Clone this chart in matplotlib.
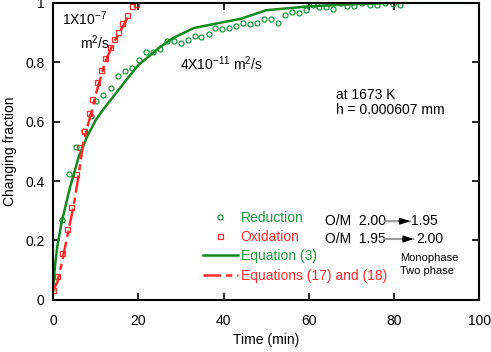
import matplotlib
matplotlib.use("Agg")
import matplotlib.pyplot as plt

plt.rcParams['font.family'] = ['Liberation Sans', 'DejaVu Sans']
plt.rcParams['mathtext.fontset'] = 'custom'
plt.rcParams['mathtext.rm'] = 'Liberation Sans'

# Reduction data (circles)
red_t = [0.47, 2.2, 3.7, 5.4, 7.2, 8.8, 10.2, 11.8, 13.5, 15.2, 16.8, 18.5, 20.1, 21.8,
         23.4, 25.1, 26.7, 28.3, 30.0, 31.6, 33.2, 34.8, 36.5, 38.1, 39.7, 41.4, 43.0,
         44.6, 46.2, 47.9, 49.5, 51.2, 52.8, 54.5, 56.0, 57.7, 59.3, 61.0, 62.5, 64.1,
         65.7, 67.5, 68.9, 70.6, 72.5, 74.4, 76.1, 77.9, 79.7, 81.5]
red_f = [0.064, 0.27, 0.423, 0.513, 0.57, 0.62, 0.668, 0.69, 0.713, 0.754, 0.772, 0.78,
         0.808, 0.833, 0.836, 0.846, 0.87, 0.87, 0.864, 0.874, 0.888, 0.884, 0.896, 0.916,
         0.912, 0.914, 0.922, 0.933, 0.93, 0.933, 0.947, 0.947, 0.933, 0.96, 0.97, 0.967,
         0.976, 0.993, 0.985, 0.985, 0.979, 0.999, 0.99, 0.99, 1.0, 0.993, 0.993, 1.0,
         0.997, 0.993]

# Oxidation data (squares)
ox_t = [0.1, 1.0, 2.2, 3.2, 4.2, 5.3, 6.2, 7.2, 8.4, 9.2, 10.3, 11.2, 12.2, 13.4, 14.3,
        15.3, 16.3, 17.4, 18.5, 19.5]
ox_f = [0.034, 0.082, 0.157, 0.239, 0.314, 0.423, 0.513, 0.57, 0.629, 0.677, 0.735,
        0.774, 0.814, 0.851, 0.878, 0.903, 0.932, 0.96, 0.988, 0.997]

# Equation (3)
eq3_t = [0, 0.5, 1, 2, 3, 4, 5, 6, 8, 10, 12, 15, 18, 20, 25, 28, 33, 40, 44, 50, 60, 70, 80, 100]
eq3_f = [0.03, 0.12, 0.18, 0.26, 0.32, 0.38, 0.43, 0.48, 0.55, 0.605, 0.645, 0.70, 0.755,
         0.79, 0.85, 0.88, 0.915, 0.935, 0.946, 0.975, 0.988, 0.995, 1.0, 1.0]

# Equations (17) and (18)
eq17_t = [0, 1, 2, 3, 4, 5, 6, 7, 8, 9, 10, 12, 14, 16, 17.5]
eq17_f = [0.03, 0.06, 0.12, 0.19, 0.26, 0.33, 0.42, 0.52, 0.58, 0.63, 0.69, 0.79, 0.86, 0.91, 0.95]

GREEN_M = '#1a9e3c'
GREEN_L = '#138a1f'
RED = '#ff2a2a'

fig = plt.figure(figsize=(4.91, 3.52), dpi=100)
ax = fig.add_axes([0.108, 0.148, 0.868, 0.844])

ax.plot(red_t, red_f, 'o', ms=3.6, mfc='none', mec=GREEN_M, mew=0.9, label='Reduction')
ax.plot(ox_t, ox_f, 's', ms=3.6, mfc='none', mec=RED, mew=0.9, label='Oxidation')
ax.plot(eq3_t, eq3_f, '-', color=GREEN_L, lw=1.8, label='Equation (3)')
ax.plot(eq17_t, eq17_f, '-', color=RED, lw=1.8, dashes=(7, 2, 2.5, 2), label='Equations (17) and (18)')

ax.set_xlim(0, 100)
ax.set_ylim(0, 1)
ax.set_xticks([0, 20, 40, 60, 80, 100])
ax.set_yticks([0, 0.2, 0.4, 0.6, 0.8, 1])
ax.set_yticklabels(['0', '0.2', '0.4', '0.6', '0.8', '1'])
ax.tick_params(direction='in', top=True, right=True, length=5, width=1.2, labelsize=10, pad=6)
ax.tick_params(axis='x', pad=10)
for s in ax.spines.values():
    s.set_linewidth(1.5)

ax.set_xlabel('Time (min)', fontsize=10)
ax.set_ylabel('Changing fraction', fontsize=10, labelpad=6)

leg = ax.legend(loc='upper left', bbox_to_anchor=(0.352, 0.30), frameon=False,
                borderpad=0, borderaxespad=0, handlelength=2.5, handletextpad=0.2,
                labelspacing=0.38, numpoints=1, fontsize=10)
for txt, c in zip(leg.get_texts(), [GREEN_M, RED, GREEN_M, RED]):
    txt.set_color(c)

ax.text(2.1, 0.945, r'1X10$^{-7}$', fontsize=10, va='center')
ax.text(6.3, 0.865, r'm$^2$/s', fontsize=10, va='center')
ax.text(29.8, 0.795, r'4X10$^{-11}$ m$^2$/s', fontsize=10, va='center')
ax.text(66.4, 0.69, 'at 1673 K', fontsize=10, va='center')
ax.text(66.4, 0.64, 'h = 0.000607 mm', fontsize=10, va='center')

ax.text(63.8, 0.265, 'O/M  2.00', fontsize=10, va='center')
ax.text(84.0, 0.265, '1.95', fontsize=10, va='center')
ax.text(63.8, 0.205, 'O/M  1.95', fontsize=10, va='center')
ax.text(85.2, 0.205, '2.00', fontsize=10, va='center')
for yy, x1 in [(0.265, 83.8), (0.205, 84.6)]:
    ax.annotate('', xy=(x1, yy), xytext=(77.8, yy),
                arrowprops=dict(arrowstyle='-', color='#999999', lw=1.5, shrinkA=0, shrinkB=0))
    ax.annotate('', xy=(x1, yy), xytext=(x1 - 2.6, yy),
                arrowprops=dict(arrowstyle='-|>,head_length=0.6,head_width=0.2', color='black',
                                lw=1.0, shrinkA=0, shrinkB=0))
ax.text(81.5, 0.142, 'Monophase', fontsize=8, va='center')
ax.text(81.5, 0.097, 'Two phase', fontsize=8, va='center')

fig.savefig('out.png', dpi=100)
